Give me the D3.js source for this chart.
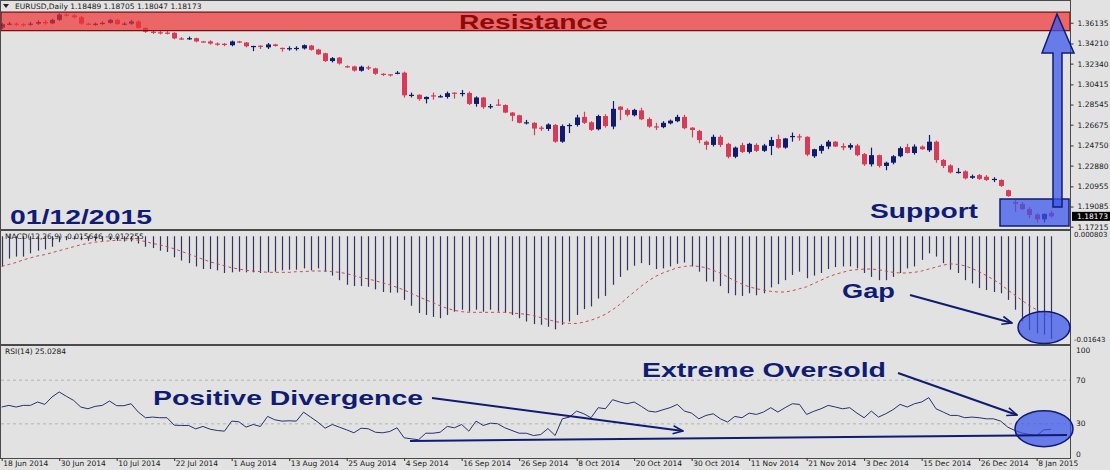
<!DOCTYPE html>
<html>
<head>
<meta charset="utf-8">
<script src="https://cdn.jsdelivr.net/npm/d3@7"></script>
<style>
  body { margin: 0; background: #e2e2e2; }
  svg { display: block; }
  .small { font-family: "DejaVu Sans", sans-serif; font-size: 7.5px; fill: #1a1a1a; }
  .note { font-family: "Liberation Sans", Arial, sans-serif; font-weight: bold; font-size: 20px; fill: #101c74; }
</style>
</head>
<body>
<svg id="chart" width="1110" height="470"></svg>
<script>
// one label every 8 daily bars
var dateLabels = ['18 Jun 2014', '30 Jun 2014', '10 Jul 2014', '22 Jul 2014', '1 Aug 2014', '13 Aug 2014',
  '25 Aug 2014', '4 Sep 2014', '16 Sep 2014', '26 Sep 2014', '8 Oct 2014', '20 Oct 2014', '30 Oct 2014',
  '11 Nov 2014', '21 Nov 2014', '3 Dec 2014', '15 Dec 2014', '26 Dec 2014', '8 Jan 2015'];

// daily candles: open, high, low, close
var ohlc = [
  [1.3568, 1.3612, 1.3555, 1.3600], [1.3600, 1.3620, 1.3590, 1.3605], [1.3605, 1.3615, 1.3585, 1.3600], [1.3600, 1.3610, 1.3578, 1.3594],
  [1.3594, 1.3620, 1.3585, 1.3605], [1.3605, 1.3635, 1.3595, 1.3620], [1.3620, 1.3640, 1.3595, 1.3608], [1.3608, 1.3650, 1.3600, 1.3640],
  [1.3640, 1.3700, 1.3630, 1.3690], [1.3690, 1.3700, 1.3672, 1.3682], [1.3682, 1.3692, 1.3655, 1.3665], [1.3665, 1.3675, 1.3595, 1.3605],
  [1.3605, 1.3612, 1.3590, 1.3601], [1.3601, 1.3615, 1.3585, 1.3604], [1.3604, 1.3625, 1.3595, 1.3612], [1.3612, 1.3650, 1.3605, 1.3640],
  [1.3640, 1.3650, 1.3595, 1.3601], [1.3601, 1.3618, 1.3590, 1.3605], [1.3605, 1.3640, 1.3595, 1.3625], [1.3625, 1.3635, 1.3560, 1.3565],
  [1.3565, 1.3570, 1.3520, 1.3530], [1.3530, 1.3540, 1.3510, 1.3525], [1.3525, 1.3535, 1.3505, 1.3522], [1.3522, 1.3535, 1.3505, 1.3520],
  [1.3520, 1.3525, 1.3460, 1.3468], [1.3468, 1.3480, 1.3455, 1.3465], [1.3465, 1.3485, 1.3455, 1.3470], [1.3470, 1.3475, 1.3432, 1.3440],
  [1.3440, 1.3445, 1.3430, 1.3437], [1.3440, 1.3450, 1.3410, 1.3420], [1.3420, 1.3430, 1.3400, 1.3418], [1.3418, 1.3425, 1.3395, 1.3410],
  [1.3405, 1.3448, 1.3395, 1.3440], [1.3440, 1.3445, 1.3425, 1.3430], [1.3430, 1.3435, 1.3385, 1.3395], [1.3395, 1.3400, 1.3350, 1.3398],
  [1.3400, 1.3405, 1.3370, 1.3390], [1.3385, 1.3425, 1.3370, 1.3412], [1.3412, 1.3418, 1.3392, 1.3398], [1.3380, 1.3383, 1.3345, 1.3372],
  [1.3372, 1.3395, 1.3355, 1.3378], [1.3378, 1.3395, 1.3355, 1.3380], [1.3375, 1.3412, 1.3365, 1.3405], [1.3402, 1.3408, 1.3355, 1.3362],
  [1.3365, 1.3372, 1.3315, 1.3320], [1.3330, 1.3335, 1.3250, 1.3258], [1.3258, 1.3295, 1.3245, 1.3285], [1.3290, 1.3295, 1.3225, 1.3235],
  [1.3210, 1.3218, 1.3195, 1.3205], [1.3208, 1.3215, 1.3160, 1.3170], [1.3168, 1.3215, 1.3160, 1.3205], [1.3200, 1.3215, 1.3175, 1.3190],
  [1.3190, 1.3195, 1.3130, 1.3140], [1.3140, 1.3145, 1.3120, 1.3135], [1.3135, 1.3138, 1.3115, 1.3132], [1.3140, 1.3165, 1.3135, 1.3150],
  [1.3150, 1.3160, 1.2920, 1.2940], [1.2940, 1.2965, 1.2920, 1.2945], [1.2945, 1.2950, 1.2890, 1.2905], [1.2905, 1.2930, 1.2865, 1.2925],
  [1.2940, 1.2965, 1.2900, 1.2930], [1.2930, 1.2945, 1.2920, 1.2932], [1.2925, 1.2975, 1.2910, 1.2960], [1.2965, 1.2968, 1.2910, 1.2955],
  [1.2955, 1.2990, 1.2930, 1.2962], [1.2962, 1.2975, 1.2850, 1.2860], [1.2860, 1.2930, 1.2835, 1.2920], [1.2920, 1.2925, 1.2815, 1.2830],
  [1.2830, 1.2860, 1.2815, 1.2840], [1.2855, 1.2905, 1.2845, 1.2850], [1.2850, 1.2855, 1.2775, 1.2780], [1.2780, 1.2785, 1.2700, 1.2750],
  [1.2755, 1.2760, 1.2680, 1.2685], [1.2685, 1.2712, 1.2670, 1.2690], [1.2685, 1.2690, 1.2570, 1.2632], [1.2640, 1.2655, 1.2610, 1.2632],
  [1.2628, 1.2680, 1.2610, 1.2670], [1.2665, 1.2675, 1.2500, 1.2510], [1.2510, 1.2670, 1.2500, 1.2655], [1.2655, 1.2680, 1.2590, 1.2665],
  [1.2665, 1.2760, 1.2650, 1.2735], [1.2740, 1.2788, 1.2674, 1.2685], [1.2690, 1.2700, 1.2610, 1.2620], [1.2625, 1.2760, 1.2615, 1.2748],
  [1.2748, 1.2765, 1.2640, 1.2655], [1.2650, 1.2887, 1.2625, 1.2815], [1.2835, 1.2840, 1.2710, 1.2805], [1.2805, 1.2820, 1.2745, 1.2760],
  [1.2755, 1.2815, 1.2745, 1.2805], [1.2800, 1.2825, 1.2710, 1.2718], [1.2720, 1.2735, 1.2640, 1.2650], [1.2652, 1.2685, 1.2618, 1.2645],
  [1.2645, 1.2700, 1.2635, 1.2685], [1.2680, 1.2715, 1.2670, 1.2705], [1.2700, 1.2760, 1.2690, 1.2740], [1.2740, 1.2760, 1.2625, 1.2635],
  [1.2640, 1.2645, 1.2550, 1.2618], [1.2610, 1.2620, 1.2495, 1.2525], [1.2510, 1.2520, 1.2435, 1.2480], [1.2480, 1.2575, 1.2465, 1.2555],
  [1.2555, 1.2570, 1.2460, 1.2480], [1.2490, 1.2500, 1.2355, 1.2370], [1.2370, 1.2465, 1.2357, 1.2455], [1.2478, 1.2500, 1.2405, 1.2415],
  [1.2415, 1.2500, 1.2400, 1.2490], [1.2480, 1.2495, 1.2415, 1.2425], [1.2425, 1.2490, 1.2415, 1.2475], [1.2470, 1.2555, 1.2385, 1.2525],
  [1.2535, 1.2575, 1.2445, 1.2455], [1.2455, 1.2545, 1.2445, 1.2540], [1.2555, 1.2595, 1.2510, 1.2563], [1.2560, 1.2580, 1.2520, 1.2552],
  [1.2555, 1.2560, 1.2375, 1.2390], [1.2375, 1.2445, 1.2360, 1.2440], [1.2425, 1.2485, 1.2400, 1.2470], [1.2465, 1.2525, 1.2440, 1.2510],
  [1.2510, 1.2515, 1.2460, 1.2465], [1.2470, 1.2495, 1.2430, 1.2455], [1.2455, 1.2495, 1.2435, 1.2478], [1.2475, 1.2490, 1.2375, 1.2385],
  [1.2395, 1.2405, 1.2285, 1.2300], [1.2300, 1.2455, 1.2280, 1.2385], [1.2385, 1.2390, 1.2270, 1.2285], [1.2285, 1.2325, 1.2245, 1.2315],
  [1.2315, 1.2385, 1.2300, 1.2375], [1.2375, 1.2465, 1.2365, 1.2450], [1.2460, 1.2490, 1.2400, 1.2405], [1.2405, 1.2485, 1.2390, 1.2465],
  [1.2465, 1.2475, 1.2435, 1.2440], [1.2430, 1.2572, 1.2415, 1.2510], [1.2510, 1.2520, 1.2315, 1.2340], [1.2340, 1.2350, 1.2265, 1.2285],
  [1.2290, 1.2300, 1.2215, 1.2225], [1.2225, 1.2265, 1.2215, 1.2230], [1.2235, 1.2245, 1.2160, 1.2170], [1.2175, 1.2205, 1.2165, 1.2190],
  [1.2200, 1.2210, 1.2155, 1.2165], [1.2185, 1.2200, 1.2145, 1.2155], [1.2155, 1.2180, 1.2135, 1.2165], [1.2155, 1.2160, 1.2090, 1.2100],
  [1.2060, 1.2065, 1.2000, 1.2005], [1.1950, 1.1968, 1.1860, 1.1935], [1.1932, 1.1950, 1.1875, 1.1885], [1.1885, 1.1900, 1.1800, 1.1830],
  [1.1835, 1.1845, 1.1760, 1.1790], [1.1790, 1.1845, 1.1760, 1.1840], [1.18489, 1.18705, 1.18047, 1.18173]
];

// MACD(12,26,9) main line, drawn as histogram
var macd = [
  -0.0046, -0.0034, -0.0031, -0.0031, -0.0026, -0.0022, -0.0020, -0.0016, -0.0009, -0.0006,
  -0.0005, -0.0006, -0.0007, -0.0007, -0.0007, -0.0006, -0.0007, -0.0008, -0.0008, -0.0011,
  -0.0016, -0.0018, -0.0022, -0.0024, -0.0032, -0.0037, -0.0041, -0.0046, -0.0050, -0.0050,
  -0.0052, -0.0056, -0.0055, -0.0054, -0.0055, -0.0055, -0.0056, -0.0055, -0.0054, -0.0052,
  -0.0051, -0.0051, -0.0049, -0.0052, -0.0049, -0.0054, -0.0060, -0.0067, -0.0074, -0.0076,
  -0.0076, -0.0077, -0.0081, -0.0085, -0.0086, -0.0086, -0.0097, -0.0106, -0.0117, -0.0120,
  -0.0123, -0.0125, -0.0120, -0.0115, -0.0112, -0.0115, -0.0112, -0.0115, -0.0112, -0.0115,
  -0.0117, -0.0120, -0.0125, -0.0130, -0.0134, -0.0135, -0.0138, -0.0142, -0.0135, -0.0130,
  -0.0120, -0.0111, -0.0107, -0.0095, -0.0091, -0.0074, -0.0062, -0.0052, -0.0045, -0.0041,
  -0.0044, -0.0050, -0.0049, -0.0046, -0.0042, -0.0040, -0.0046, -0.0054, -0.0069, -0.0069,
  -0.0076, -0.0087, -0.0090, -0.0091, -0.0087, -0.0090, -0.0087, -0.0078, -0.0073, -0.0067,
  -0.0059, -0.0054, -0.0064, -0.0060, -0.0056, -0.0050, -0.0047, -0.0046, -0.0046, -0.0049,
  -0.0056, -0.0062, -0.0067, -0.0067, -0.0062, -0.0056, -0.0049, -0.0046, -0.0036, -0.0026,
  -0.0031, -0.0041, -0.0051, -0.0056, -0.0067, -0.0072, -0.0079, -0.0082, -0.0085, -0.0087,
  -0.0097, -0.0112, -0.0130, -0.0143, -0.0148, -0.0150, -0.015646
];

// MACD signal line (dotted)
var signal = [
  -0.0046, -0.0043, -0.0040, -0.0036, -0.0033, -0.0030, -0.0028, -0.0025, -0.0022, -0.0019,
  -0.0016, -0.0013, -0.0011, -0.0009, -0.0008, -0.0007, -0.0006, -0.0006, -0.0005, -0.0006,
  -0.0008, -0.0011, -0.0013, -0.0016, -0.0019, -0.0023, -0.0027, -0.0031, -0.0035, -0.0039,
  -0.0042, -0.0045, -0.0048, -0.0050, -0.0052, -0.0053, -0.0054, -0.0055, -0.0055, -0.0055,
  -0.0055, -0.0054, -0.0054, -0.0053, -0.0053, -0.0053, -0.0054, -0.0055, -0.0057, -0.0060,
  -0.0063, -0.0065, -0.0068, -0.0071, -0.0074, -0.0078, -0.0082, -0.0087, -0.0092, -0.0097,
  -0.0101, -0.0106, -0.0110, -0.0113, -0.0115, -0.0116, -0.0116, -0.0116, -0.0116, -0.0116,
  -0.0116, -0.0117, -0.0118, -0.0119, -0.0121, -0.0124, -0.0127, -0.0130, -0.0132, -0.0133,
  -0.0133, -0.0131, -0.0128, -0.0124, -0.0119, -0.0112, -0.0104, -0.0094, -0.0085, -0.0076,
  -0.0068, -0.0061, -0.0056, -0.0052, -0.0048, -0.0046, -0.0045, -0.0046, -0.0048, -0.0052,
  -0.0056, -0.0062, -0.0068, -0.0073, -0.0077, -0.0080, -0.0082, -0.0084, -0.0085, -0.0085,
  -0.0083, -0.0080, -0.0077, -0.0072, -0.0067, -0.0062, -0.0058, -0.0055, -0.0052, -0.0051,
  -0.0050, -0.0050, -0.0051, -0.0053, -0.0055, -0.0056, -0.0056, -0.0055, -0.0053, -0.0050,
  -0.0047, -0.0044, -0.0042, -0.0043, -0.0045, -0.0049, -0.0054, -0.0060, -0.0066, -0.0073,
  -0.0082, -0.0090, -0.0098, -0.0106, -0.0112, -0.0118, -0.012255
];

// RSI(14)
var rsi = [
  45.4, 46.9, 45.4, 46.9, 46.9, 50.0, 47.8, 54.6, 59.2, 55.2,
  51.5, 45.4, 43.8, 46.0, 46.9, 50.9, 46.6, 46.6, 48.4, 40.8,
  35.6, 36.2, 35.6, 35.6, 28.8, 28.5, 28.5, 25.4, 27.6, 25.1,
  23.9, 23.3, 32.5, 31.9, 27.0, 29.4, 27.6, 36.8, 33.7, 32.5,
  32.8, 32.5, 40.7, 36.1, 31.5, 26.0, 29.4, 26.9, 24.5, 21.8,
  26.0, 25.5, 22.3, 21.8, 23.0, 26.4, 17.2, 16.3, 15.4, 21.4,
  21.4, 22.3, 27.6, 26.4, 29.4, 23.3, 32.5, 28.5, 30.6, 30.1,
  26.4, 23.9, 21.4, 21.4, 19.3, 20.2, 25.7, 19.3, 34.6, 36.2,
  41.7, 39.2, 35.6, 44.8, 43.8, 52.1, 50.0, 48.4, 50.0, 46.0,
  41.7, 40.8, 42.9, 44.8, 47.8, 41.7, 39.8, 34.6, 37.7, 39.2,
  34.6, 31.6, 36.8, 35.6, 39.8, 38.6, 40.8, 44.8, 40.8, 44.8,
  48.4, 47.8, 38.6, 41.5, 43.8, 46.9, 45.4, 43.8, 44.8, 39.8,
  35.6, 41.7, 36.2, 39.2, 42.9, 47.8, 45.4, 48.4, 50.0, 54.0,
  43.8, 40.8, 37.7, 37.7, 35.6, 36.2, 35.6, 34.6, 34.6, 32.5,
  26.9, 23.9, 21.5, 20.2, 19.3, 24.5, 25.03
];

var priceTicks = [1.36135, 1.34210, 1.32340, 1.30415, 1.28545, 1.26675, 1.24750, 1.22880, 1.20955, 1.19085, 1.17215];
var macdTicks = [0.000803, -0.01643];
var rsiTicks = [100, 70, 30, 0];
var rsiLevels = [70, 30];
var resistance = [1.3540, 1.3712];

var svg = d3.select('#chart');
var W = 1110, plotRight = 1070;
var navy = '#101c74', blue = 'rgba(55,85,235,0.72)';
var bullColor = '#121a6e', bearColor = '#d63c58';

// panels
var pTop = 1, pBot = 229, mTop = 231, mBot = 344, rTop = 346, rBot = 458;

var x = d3.scaleLinear().domain([0, ohlc.length - 1]).range([1.7, 1051]);
var yP = d3.scaleLinear().domain([1.1700, 1.3815]).range([pBot, pTop]);
var yM = d3.scaleLinear().domain([-0.01643, 0.000803]).range([mBot, mTop]);
var yR = d3.scaleLinear().domain([0, 100]).range([456.6, 347.4]);

svg.append('rect').attr('width', W).attr('height', 470).attr('fill', '#e2e2e2');

// candles
var c = svg.append('g').selectAll('g').data(ohlc).enter().append('g')
  .attr('fill', function (d) { return d[3] >= d[0] ? bullColor : bearColor; })
  .attr('stroke', function (d) { return d[3] >= d[0] ? bullColor : bearColor; });

c.append('line')
  .attr('x1', function (d, i) { return Math.round(x(i)) + 0.5; })
  .attr('x2', function (d, i) { return Math.round(x(i)) + 0.5; })
  .attr('y1', function (d) { return yP(d[1]); })
  .attr('y2', function (d) { return yP(d[2]); })
  .attr('stroke-width', 1.2);

c.append('rect')
  .attr('x', function (d, i) { return Math.round(x(i)) - 2; })
  .attr('width', 5)
  .attr('y', function (d) { return yP(Math.max(d[0], d[3])); })
  .attr('height', function (d) { return Math.max(1.2, Math.abs(yP(d[0]) - yP(d[3]))); })
  .attr('stroke', 'none');

// resistance band
svg.append('rect')
  .attr('x', 1).attr('width', plotRight - 1)
  .attr('y', yP(resistance[1])).attr('height', yP(resistance[0]) - yP(resistance[1]))
  .attr('fill', 'rgba(240,50,50,0.7)').attr('stroke', '#7a0a0a').attr('stroke-width', 1.2);

// MACD histogram
svg.append('g').selectAll('line').data(macd).enter().append('line')
  .attr('x1', function (d, i) { return Math.round(x(i)) + 0.5; })
  .attr('x2', function (d, i) { return Math.round(x(i)) + 0.5; })
  .attr('y1', yM(0))
  .attr('y2', function (d) { return yM(d); })
  .attr('stroke', '#343462').attr('stroke-width', 1.2);

svg.append('path').datum(signal)
  .attr('d', d3.line().x(function (d, i) { return x(i); }).y(function (d) { return yM(d); }))
  .attr('fill', 'none').attr('stroke', '#c84c58').attr('stroke-width', 1).attr('stroke-dasharray', '3,3');

// RSI
svg.append('g').selectAll('line').data(rsiLevels).enter().append('line')
  .attr('x1', 1).attr('x2', plotRight)
  .attr('y1', function (d) { return yR(d); }).attr('y2', function (d) { return yR(d); })
  .attr('stroke', '#b2b2b2').attr('stroke-dasharray', '3,3');

svg.append('path').datum(rsi)
  .attr('d', d3.line().x(function (d, i) { return x(i); }).y(function (d) { return yR(d); }))
  .attr('fill', 'none').attr('stroke', '#2a3070').attr('stroke-width', 1);

// panel frames
svg.append('rect').attr('x', 0.5).attr('y', 0.5).attr('width', plotRight).attr('height', rBot)
  .attr('fill', 'none').attr('stroke', '#4a4a4a');
[230, 345].forEach(function (yy) {
  svg.append('line').attr('x1', 0).attr('x2', plotRight + 0.5).attr('y1', yy).attr('y2', yy)
    .attr('stroke', '#4a4a4a').attr('stroke-width', 2);
});

// price axis
var pAxis = svg.append('g').attr('class', 'small').attr('transform', 'translate(' + (plotRight + 0.5) + ',0)')
  .call(d3.axisRight(yP).tickValues(priceTicks).tickFormat(d3.format('.5f')).tickSize(3).tickPadding(4));
pAxis.select('.domain').remove();
pAxis.selectAll('text').attr('fill', '#1a1a1a').attr('font-size', '7.5px').attr('font-family', 'DejaVu Sans');
pAxis.selectAll('line').attr('stroke', '#333');

// current price tag
var last = ohlc[ohlc.length - 1][3];
svg.append('rect').attr('x', plotRight + 2).attr('y', yP(last) - 4.5).attr('width', 38).attr('height', 9).attr('fill', '#000');
svg.append('text').attr('class', 'small').attr('x', plotRight + 7).attr('y', yP(last)).attr('dy', '0.35em')
  .style('fill', '#fff').text(last.toFixed(5));

// MACD and RSI scale labels, kept inside their panels
function sideLabels(ticks, scale, top, bot, fmt, dx, size) {
  svg.append('g').selectAll('text').data(ticks).enter().append('text')
    .attr('class', 'small')
    .attr('x', plotRight + dx)
    .attr('y', function (d) { return Math.min(bot - 4, Math.max(top + 4, scale(d))); })
    .attr('dy', '0.35em')
    .style('font-size', size)
    .text(fmt);
}
sideLabels(macdTicks, yM, mTop, mBot, function (d) { return d > 0 ? d.toFixed(6) : d.toFixed(5); }, 4, '7px');
sideLabels(rsiTicks, yR, rTop, rBot, function (d) { return d; }, 6, '7.5px');

// date axis
var tickIdx = d3.range(0, ohlc.length - 2, 8);
var dAxis = svg.append('g').attr('class', 'small').attr('transform', 'translate(0,' + rBot + ')')
  .call(d3.axisBottom(x).tickValues(tickIdx).tickFormat(function (d, i) { return dateLabels[i]; }).tickSize(3));
dAxis.select('.domain').remove();
dAxis.selectAll('line').attr('stroke', '#333');
dAxis.selectAll('text').attr('text-anchor', 'start').attr('x', 1).attr('y', 3)
  .attr('fill', '#1a1a1a').attr('font-size', '7.5px').attr('font-family', 'DejaVu Sans');

// titles
svg.append('path').attr('d', 'M3,4 L9,4 L6,8 Z').attr('fill', '#222');
svg.append('text').attr('class', 'small').attr('x', 15).attr('y', 9)
  .text('EURUSD,Daily  1.18489 1.18705 1.18047 1.18173');
svg.append('text').attr('class', 'small').attr('x', 5).attr('y', 239).text('MACD(12,26,9) -0.015646 -0.012255');
svg.append('text').attr('class', 'small').attr('x', 5).attr('y', 354).text('RSI(14) 25.0284');

// hand drawn overlays
var defs = svg.append('defs');
defs.append('marker').attr('id', 'head').attr('viewBox', '0 0 12 10').attr('refX', 11).attr('refY', 5)
  .attr('markerWidth', 12).attr('markerHeight', 10).attr('markerUnits', 'userSpaceOnUse').attr('orient', 'auto')
  .append('path').attr('d', 'M1,1 L11,5 L1,9').attr('fill', 'none').attr('stroke', navy).attr('stroke-width', 1.6);

svg.append('rect').attr('x', 1000).attr('y', 199).attr('width', 69).attr('height', 27)
  .attr('fill', blue).attr('stroke', navy).attr('stroke-width', 1.5);
svg.append('polygon')
  .attr('points', '1053,207 1053,53 1042,53 1057,14 1074,53 1062,53 1062,207')
  .attr('fill', blue).attr('stroke', navy).attr('stroke-width', 1.5);
svg.append('ellipse').attr('cx', 1044).attr('cy', 327.5).attr('rx', 26).attr('ry', 16)
  .attr('fill', blue).attr('stroke', navy).attr('stroke-width', 1.5);
svg.append('ellipse').attr('cx', 1044).attr('cy', 428.7).attr('rx', 29).attr('ry', 18)
  .attr('fill', blue).attr('stroke', navy).attr('stroke-width', 1.5);

var arrows = [
  [910, 295, 1012, 323],
  [898, 373, 1017, 415],
  [432, 398, 683, 431]
];
svg.append('g').selectAll('line').data(arrows).enter().append('line')
  .attr('x1', function (d) { return d[0]; }).attr('y1', function (d) { return d[1]; })
  .attr('x2', function (d) { return d[2]; }).attr('y2', function (d) { return d[3]; })
  .attr('stroke', navy).attr('stroke-width', 2).attr('marker-end', 'url(#head)');
svg.append('line').attr('x1', 410).attr('y1', 441).attr('x2', 1067).attr('y2', 435)
  .attr('stroke', navy).attr('stroke-width', 2);

var notes = [
  { t: 'Resistance', x: 459, y: 29.3, w: 149, c: '#8b0b0b' },
  { t: '01/12/2015', x: 10, y: 224, w: 142 },
  { t: 'Support', x: 870, y: 218.3, w: 108 },
  { t: 'Gap', x: 842, y: 298.3, w: 53 },
  { t: 'Positive Divergence', x: 153, y: 405, w: 270 },
  { t: 'Extreme Oversold', x: 642, y: 376.7, w: 244 }
];
svg.append('g').selectAll('text').data(notes).enter().append('text')
  .attr('class', 'note')
  .attr('x', function (d) { return d.x; }).attr('y', function (d) { return d.y; })
  .attr('textLength', function (d) { return d.w; }).attr('lengthAdjust', 'spacingAndGlyphs')
  .style('fill', function (d) { return d.c || navy; })
  .text(function (d) { return d.t; });
</script>
</body>
</html>
